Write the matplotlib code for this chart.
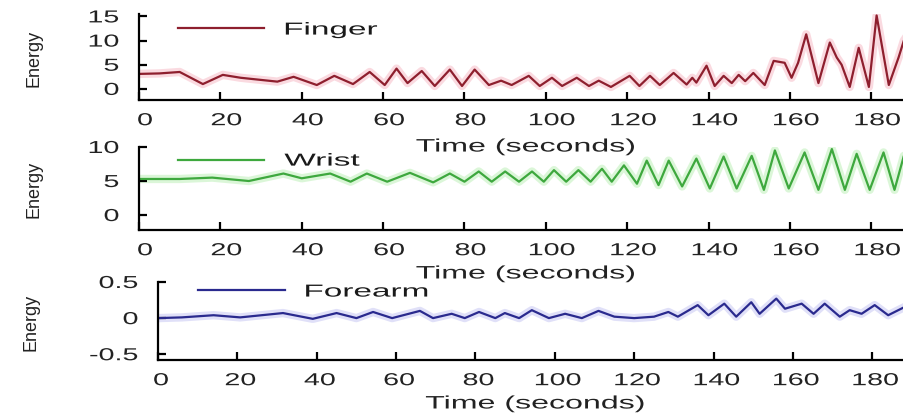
import matplotlib
matplotlib.use('Agg')
import matplotlib.pyplot as plt
from matplotlib.patheffects import AbstractPathEffect
from matplotlib.transforms import Affine2D

# Energy of the three sensors over time (peaks / troughs)
finger_t = [0, 5, 10, 15.7, 20.6, 25, 34, 38, 43.7, 48, 52.6, 56.7, 60.4, 63.3, 66, 69.5,
            72.7, 76.4, 79.4, 82.5, 86, 89, 91.6, 95.8, 98.5, 101.5, 104, 107.6, 110.6, 113,
            116, 120.6, 123, 125.6, 128, 131.4, 134.6, 136, 137, 139.5, 141.5, 143.7, 145.7,
            147.4, 149, 151, 153.8, 156, 158.7, 160.4, 162, 164, 167, 169.8, 171.5, 172.7,
            174.7, 176.9, 179.4, 181.3, 184.3, 186.7, 188, 190]
finger_v = [3.1, 3.2, 3.5, 1.0, 2.9, 2.3, 1.5, 2.5, 0.8, 2.7, 1.0, 3.5, 0.8, 4.2, 1.2, 3.7,
            0.6, 4.0, 0.6, 4.0, 0.8, 1.7, 0.8, 2.7, 0.6, 2.3, 0.6, 2.3, 0.6, 1.7,
            0.4, 2.7, 0.6, 2.7, 0.8, 3.3, 0.9, 2.3, 1.3, 4.8, 0.6, 2.7, 1.2,
            2.9, 1.6, 3.3, 0.8, 5.8, 5.4, 2.3, 5.4, 11.3, 1.2, 9.6, 6.5, 5.0,
            0.4, 8.5, 0.4, 15.2, 0.8, 6.5, 10.0, 12.5]

wrist_t = [0, 10, 18, 27, 35.5, 40, 47, 52, 56, 61, 66.6, 72.3, 76.4, 80, 83.5, 86.7, 90,
           93.4, 96.6, 99.5, 102, 105, 108, 111, 113.8, 116.2, 119.2, 122.4, 124.8, 127.7,
           130.2, 133.5, 137, 140.3, 143.7, 146.9, 150.6, 153.6, 156.3, 159.7, 163.6, 167,
           170.3, 173.5, 176.4, 179.6, 183, 185.7, 188, 190]
wrist_v = [5.3, 5.3, 5.5, 5.0, 6.1, 5.4, 6.1, 4.9, 6.1, 4.9, 6.2, 4.8, 6.1, 4.9, 6.4, 4.9, 6.4,
           4.9, 6.4, 4.9, 6.6, 4.9, 6.6, 4.9, 6.8, 4.9, 7.3, 4.6, 8.0, 4.4,
           8.0, 4.2, 8.3, 3.9, 8.6, 3.9, 8.7, 3.7, 9.5, 3.9, 9.2, 3.7,
           9.7, 3.7, 9.0, 3.7, 9.2, 3.7, 8.7, 6.5]

forearm_t = [0, 6, 14, 20.7, 31.5, 39, 45, 50, 54.2, 59, 66, 69.3, 74, 77.3, 80.9, 85, 87.4,
             91, 94.2, 98.5, 102.6, 106.8, 111, 115, 120, 125, 128.6, 131, 136, 138.7, 142.7,
             145.7, 149.5, 151.6, 155.8, 158, 162.2, 165.2, 168, 171.8, 174.3, 177.3, 180.6,
             184, 188, 190]
forearm_v = [0.0, 0.01, 0.04, 0.01, 0.07, -0.01, 0.07, 0.0, 0.085, 0.0, 0.1, 0.0, 0.06, 0.0,
             0.085, 0.0, 0.07, 0.0, 0.11, 0.0, 0.06, 0.0, 0.1, 0.02, 0.0, 0.02, 0.085, 0.02,
             0.18, 0.04, 0.2, 0.02, 0.22, 0.06, 0.27, 0.13, 0.2, 0.06, 0.2, 0.02, 0.11, 0.06,
             0.18, 0.04, 0.15, 0.2]

xticks = [0, 20, 40, 60, 80, 100, 120, 140, 160, 180]


class Stretch(AbstractPathEffect):
    # widen text glyphs horizontally (the original uses a very wide font)
    def __init__(self, sx, anchor='center', dx=0):
        super().__init__()
        self.sx = sx
        self.anchor = anchor
        self.dx = dx

    def draw_path(self, renderer, gc, tpath, affine, rgbFace=None):
        ext = tpath.get_extents()
        if self.anchor == 'left':
            cx = ext.x0
        elif self.anchor == 'right':
            cx = ext.x1
        else:
            cx = (ext.x0 + ext.x1) / 2
        pre = Affine2D().translate(-cx, 0).scale(self.sx, 1).translate(cx, 0)
        post = Affine2D().translate(self.dx, 0)
        renderer.draw_path(gc, tpath, pre + affine + post, rgbFace)


plt.rcParams['font.family'] = ['Liberation Sans', 'DejaVu Sans']
plt.rcParams['axes.unicode_minus'] = False

W, H = 904, 414
fig = plt.figure(figsize=(W / 100, H / 100), dpi=100)
fig.patch.set_facecolor('white')

# (left px, top px, bottom px, right px) of every panel
boxes = [(139, 15, 101, 912), (139, 148, 231, 912), (158, 283, 361, 912)]
series = [
    (finger_t, finger_v, 'Finger', '#8e1f2e', '#f6b6c2', (-2.3, 15.5), [0, 5, 10, 15], (0.05, 0.814)),
    (wrist_t, wrist_v, 'Wrist', '#3ea83e', '#b9efb3', (-2.2, 10), [0, 5, 10], (0.05, 0.831)),
    (forearm_t, forearm_v, 'Forearm', '#2a2a8e', '#c2c2f2', (-0.58, 0.5), [-0.5, 0, 0.5], (0.053, 0.872)),
]
xlab_y = [-0.547, -0.53, -0.564]
ylab_x = [34, 34, 31]
xtick_dx = [6, 6, 3]

ytick_fx = Stretch(1.65, 'right')
text_fx = Stretch(1.92, 'left')
xlab_fx = Stretch(1.78, 'center')

for i, (box, (t, v, name, col, halo, ylim, yticks, legpos)) in enumerate(zip(boxes, series)):
    l, top, b, r = box
    ax = fig.add_axes([l / W, 1 - b / H, (r - l) / W, (b - top) / H])
    ax.plot(t, v, color=halo, lw=6, alpha=0.5, solid_joinstyle='round', zorder=1)
    ax.plot(t, v, color=col, lw=1.6, label=name, solid_joinstyle='round', zorder=2)
    ax.set_xlim(0, 190)
    ax.set_ylim(*ylim)
    ax.set_xticks(xticks)
    ax.set_yticks(yticks)
    ax.set_xticklabels([str(x) for x in xticks])
    ax.set_yticklabels([('%g' % y) for y in yticks])
    ax.spines['top'].set_visible(False)
    ax.spines['right'].set_visible(False)
    ax.spines['left'].set_linewidth(1.6)
    ax.spines['bottom'].set_linewidth(1.6)
    ax.tick_params(direction='in', length=6, width=1.6, labelsize=12.5,
                   labelcolor='#222222', color='black')
    ax.tick_params(axis='x', pad=9.5)
    ax.tick_params(axis='y', pad=14.4)
    ax.set_facecolor('none')
    for lab in ax.get_xticklabels():
        lab.set_path_effects([Stretch(1.65, 'center', xtick_dx[i])])
    for lab in ax.get_yticklabels():
        lab.set_path_effects([ytick_fx])

    ax.set_xlabel('Time (seconds)', fontsize=13, color='#222222', va='center')
    ax.xaxis.set_label_coords(0.5, xlab_y[i])
    ax.xaxis.label.set_path_effects([xlab_fx])
    ax.set_ylabel('Energy', fontsize=13, color='#222222', va='center')
    ax.yaxis.set_label_coords((ylab_x[i] - l) / (r - l), 0.5)

    leg = ax.legend(loc='center left', bbox_to_anchor=legpos, frameon=False,
                    fontsize=12.5, handlelength=5.0, handletextpad=1.15,
                    borderpad=0, borderaxespad=0)
    for txt in leg.get_texts():
        txt.set_color('#1a1a1a')
        txt.set_path_effects([text_fx])
    leg.set_zorder(0)

fig.savefig('out.png', dpi=100, facecolor='white')
